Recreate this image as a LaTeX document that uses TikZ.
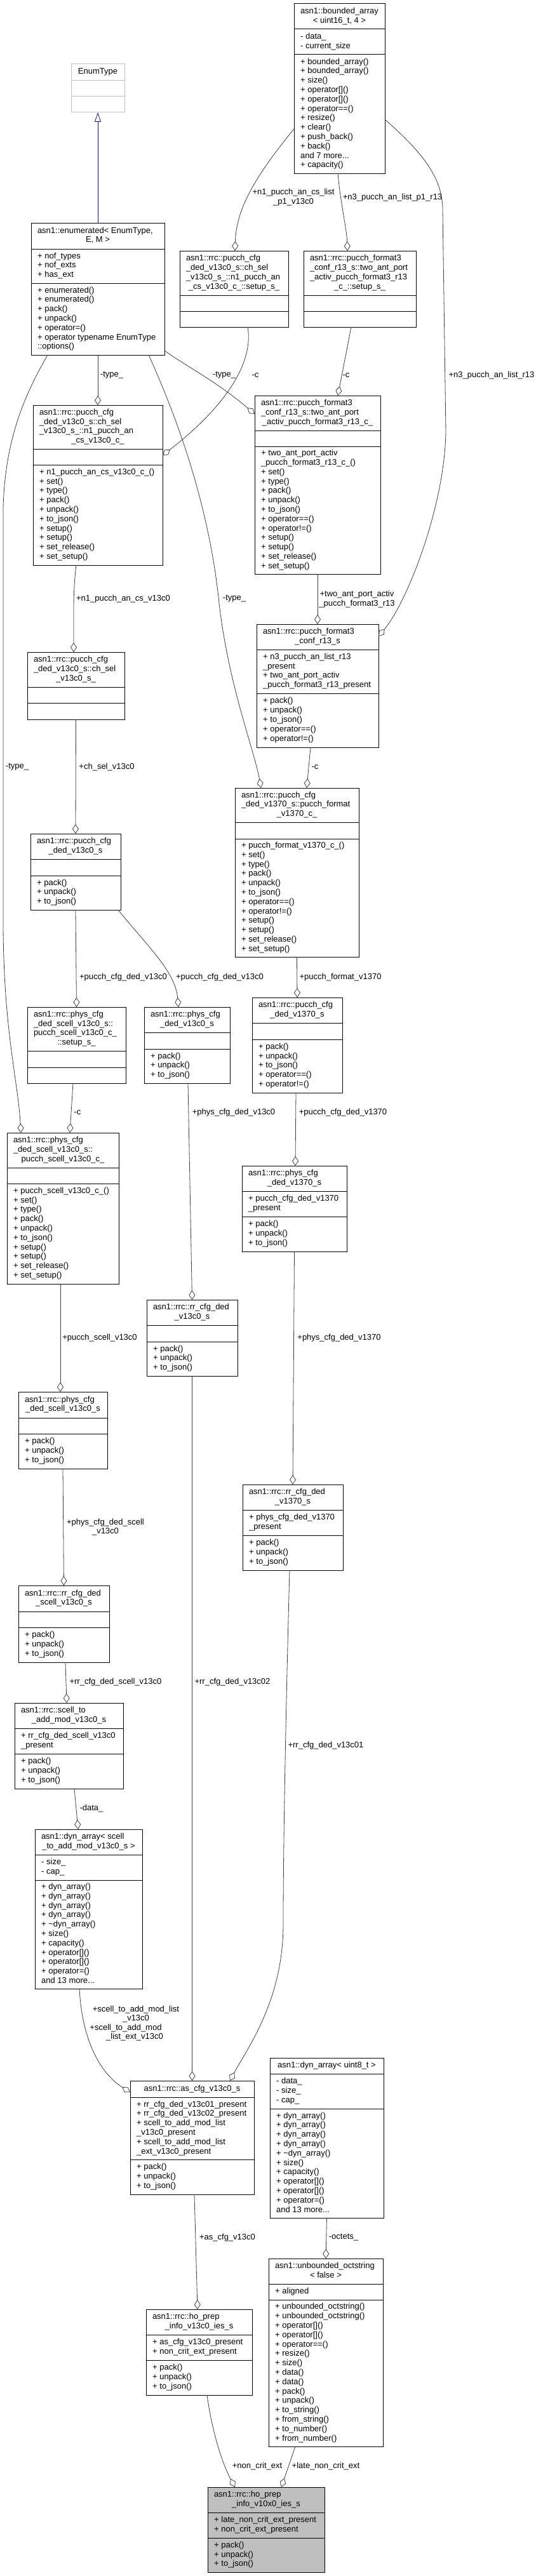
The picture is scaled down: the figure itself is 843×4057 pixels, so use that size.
\documentclass[tikz,border=0pt]{standalone}
\usepackage{fontspec}
\setmainfont{Liberation Sans}
\usetikzlibrary{arrows.meta}
\definecolor{edgec}{HTML}{404040}
\definecolor{midblue}{HTML}{191970}
\definecolor{rootfill}{HTML}{BFBFBF}
\definecolor{extborder}{HTML}{BFBFBF}
\setlength\parindent{0pt}
\newcommand\rowL[1]{\hbox{\strut #1}}
\newcommand\rowC[1]{\hbox to \hsize{\hss\strut #1\hss}}
\def\umlgeo#1,#2,#3,#4,#5,#6\relax{%
  \pgfmathsetmacro\umlXa{#1}\pgfmathsetmacro\umlYa{#2}\pgfmathsetmacro\umlXb{#3}\pgfmathsetmacro\umlYb{#4}%
  \pgfmathsetmacro\umlSa{#5}\pgfmathsetmacro\umlSb{#6}%
  \pgfmathsetmacro\umlW{#3-#1}\pgfmathsetmacro\umlH{#4-#2}%
  \pgfmathsetmacro\umlMx{(#1+#3)/2}\pgfmathsetmacro\umlTw{#3-#1-20}\pgfmathsetmacro\umlTx{#1+10}%
  \pgfmathsetmacro\umlTa{(#2+#5)/2}\pgfmathsetmacro\umlTb{(#5+#6)/2}\pgfmathsetmacro\umlTc{(#6+#4)/2}%
}
\newcommand\umlbox[7]{%
  \umlgeo#2\relax
  \node[clsbox,#3,minimum width=\umlW pt,minimum height=\umlH pt,anchor=north west] (#1) at (\umlXa,\umlYa) {};
  \draw[clsline,#3] (\umlXa,\umlSa) -- (\umlXb,\umlSa);
  \draw[clsline,#3] (\umlXa,\umlSb) -- (\umlXb,\umlSb);
  \node[clstext] (#1-t) at (\umlMx,\umlTa) {\vbox{\hsize=\umlTw pt #4\rowC{#5}}};
  \node[clstext,anchor=west] (#1-a) at (\umlTx,\umlTb) {\vbox{#6}};
  \node[clstext,anchor=west] (#1-m) at (\umlTx,\umlTc) {\vbox{#7}};
}
\tikzset{
  clsbox/.style={draw=black, line width=1pt, fill=white, inner sep=0pt, outer sep=0pt},
  clsline/.style={draw=black, line width=1pt},
  clstext/.style={inner sep=0pt, font=\fontsize{13}{14.8}\selectfont},
  lbl/.style={inner sep=0pt, font=\fontsize{13}{14.8}\selectfont, align=center},
  agg/.style={draw=edgec, line width=0.8pt, -{Diamond[open, length=15pt, width=10pt]}},
  inh/.style={draw=midblue, line width=0.8pt, -{Triangle[open, length=15pt, width=10pt]}},
}
\begin{document}
\begin{tikzpicture}[x=1pt,y=-1pt]
\useasboundingbox (0,0) rectangle (843,4057);
\fill[white] (0,0) rectangle (843,4057);

\umlbox{bounded}{463,6,606,273,46,86}{}{\rowL{asn1::bounded\_array}}{< uint16\_t, 4 >}{\rowL{- data\_}\rowL{- current\_size}}{\rowL{+ bounded\_array()}\rowL{+ bounded\_array()}\rowL{+ size()}\rowL{+ operator[]()}\rowL{+ operator[]()}\rowL{+ operator==()}\rowL{+ resize()}\rowL{+ clear()}\rowL{+ push\_back()}\rowL{+ back()}\rowL{and 7 more...}\rowL{+ capacity()}}

\umlbox{enumtype}{112,101,196,177,127,152}{draw=extborder}{}{EnumType}{}{}

\umlbox{enumerated}{49,351,259,559,392,446}{}{\rowL{asn1::enumerated< EnumType,}}{E, M >}{\rowL{+ nof\_types}\rowL{+ nof\_exts}\rowL{+ has\_ext}}{\rowL{+ enumerated()}\rowL{+ enumerated()}\rowL{+ pack()}\rowL{+ unpack()}\rowL{+ operator=()}\rowL{+ operator typename EnumType}\rowL{::options()}}

\umlbox{chsetup}{283,395,454,515,465,490}{}{\rowL{asn1::rrc::pucch\_cfg}\rowL{\_ded\_v13c0\_s::ch\_sel}\rowL{\_v13c0\_s\_::n1\_pucch\_an}}{\_cs\_v13c0\_c\_::setup\_s\_}{}{}

\umlbox{fsetup}{478,395,655,515,465,490}{}{\rowL{asn1::rrc::pucch\_format3}\rowL{\_conf\_r13\_s::two\_ant\_port}\rowL{\_activ\_pucch\_format3\_r13}}{\_c\_::setup\_s\_}{}{}

\umlbox{nonebox}{52,638,256,890,707,732}{}{\rowL{asn1::rrc::pucch\_cfg}\rowL{\_ded\_v13c0\_s::ch\_sel}\rowL{\_v13c0\_s\_::n1\_pucch\_an}}{\_cs\_v13c0\_c\_}{}{\rowL{+ n1\_pucch\_an\_cs\_v13c0\_c\_()}\rowL{+ set()}\rowL{+ type()}\rowL{+ pack()}\rowL{+ unpack()}\rowL{+ to\_json()}\rowL{+ setup()}\rowL{+ setup()}\rowL{+ set\_release()}\rowL{+ set\_setup()}}

\umlbox{twoant}{401,623,599,904,678,703}{}{\rowL{asn1::rrc::pucch\_format3}\rowL{\_conf\_r13\_s::two\_ant\_port}}{\_activ\_pucch\_format3\_r13\_c\_}{}{\rowL{+ two\_ant\_port\_activ}\rowL{\_pucch\_format3\_r13\_c\_()}\rowL{+ set()}\rowL{+ type()}\rowL{+ pack()}\rowL{+ unpack()}\rowL{+ to\_json()}\rowL{+ operator==()}\rowL{+ operator!=()}\rowL{+ setup()}\rowL{+ setup()}\rowL{+ set\_release()}\rowL{+ set\_setup()}}

\umlbox{fconf}{404,983,596,1177,1023,1092}{}{\rowL{asn1::rrc::pucch\_format3}}{\_conf\_r13\_s}{\rowL{+ n3\_pucch\_an\_list\_r13}\rowL{\_present}\rowL{+ two\_ant\_port\_activ}\rowL{\_pucch\_format3\_r13\_present}}{\rowL{+ pack()}\rowL{+ unpack()}\rowL{+ to\_json()}\rowL{+ operator==()}\rowL{+ operator!=()}}

\umlbox{chsel}{43,1027,196,1133,1082,1107}{}{\rowL{asn1::rrc::pucch\_cfg}\rowL{\_ded\_v13c0\_s::ch\_sel}}{\_v13c0\_s\_}{}{}

\umlbox{vc}{370,1241,565,1507,1295,1321}{}{\rowL{asn1::rrc::pucch\_cfg}\rowL{\_ded\_v1370\_s::pucch\_format}}{\_v1370\_c\_}{}{\rowL{+ pucch\_format\_v1370\_c\_()}\rowL{+ set()}\rowL{+ type()}\rowL{+ pack()}\rowL{+ unpack()}\rowL{+ to\_json()}\rowL{+ operator==()}\rowL{+ operator!=()}\rowL{+ setup()}\rowL{+ setup()}\rowL{+ set\_release()}\rowL{+ set\_setup()}}

\umlbox{pcdA}{48,1313,190,1433,1353,1379}{}{\rowL{asn1::rrc::pucch\_cfg}}{\_ded\_v13c0\_s}{}{\rowL{+ pack()}\rowL{+ unpack()}\rowL{+ to\_json()}}

\umlbox{scellsetup}{43,1586,198,1706,1655,1681}{}{\rowL{asn1::rrc::phys\_cfg}\rowL{\_ded\_scell\_v13c0\_s::}\rowL{pucch\_scell\_v13c0\_c\_}}{::setup\_s\_}{}{}

\umlbox{phyA}{227,1586,362,1706,1626,1652}{}{\rowL{asn1::rrc::phys\_cfg}}{\_ded\_v13c0\_s}{}{\rowL{+ pack()}\rowL{+ unpack()}\rowL{+ to\_json()}}

\umlbox{pcdB}{397,1571,539,1721,1611,1637}{}{\rowL{asn1::rrc::pucch\_cfg}}{\_ded\_v1370\_s}{}{\rowL{+ pack()}\rowL{+ unpack()}\rowL{+ to\_json()}\rowL{+ operator==()}\rowL{+ operator!=()}}

\umlbox{pscellc}{11,1784,187,2022,1839,1864}{}{\rowL{asn1::rrc::phys\_cfg}\rowL{\_ded\_scell\_v13c0\_s::}}{pucch\_scell\_v13c0\_c\_}{}{\rowL{+ pucch\_scell\_v13c0\_c\_()}\rowL{+ set()}\rowL{+ type()}\rowL{+ pack()}\rowL{+ unpack()}\rowL{+ to\_json()}\rowL{+ setup()}\rowL{+ setup()}\rowL{+ set\_release()}\rowL{+ set\_setup()}}

\umlbox{phyB}{381,1836,546,1971,1876,1916}{}{\rowL{asn1::rrc::phys\_cfg}}{\_ded\_v1370\_s}{\rowL{+ pucch\_cfg\_ded\_v1370}\rowL{\_present}}{\rowL{+ pack()}\rowL{+ unpack()}\rowL{+ to\_json()}}

\umlbox{rrA}{231,2047,374,2167,2087,2113}{}{\rowL{asn1::rrc::rr\_cfg\_ded}}{\_v13c0\_s}{}{\rowL{+ pack()}\rowL{+ unpack()}\rowL{+ to\_json()}}

\umlbox{phyC}{29,2192,169,2313,2233,2258}{}{\rowL{asn1::rrc::phys\_cfg}}{\_ded\_scell\_v13c0\_s}{}{\rowL{+ pack()}\rowL{+ unpack()}\rowL{+ to\_json()}}

\umlbox{rrB}{382,2338,540,2473,2378,2418}{}{\rowL{asn1::rrc::rr\_cfg\_ded}}{\_v1370\_s}{\rowL{+ phys\_cfg\_ded\_v1370}\rowL{\_present}}{\rowL{+ pack()}\rowL{+ unpack()}\rowL{+ to\_json()}}

\umlbox{rrC}{29,2497,172,2618,2538,2563}{}{\rowL{asn1::rrc::rr\_cfg\_ded}}{\_scell\_v13c0\_s}{}{\rowL{+ pack()}\rowL{+ unpack()}\rowL{+ to\_json()}}

\umlbox{scelladd}{23,2682,194,2817,2722,2762}{}{\rowL{asn1::rrc::scell\_to}}{\_add\_mod\_v13c0\_s}{\rowL{+ rr\_cfg\_ded\_scell\_v13c0}\rowL{\_present}}{\rowL{+ pack()}\rowL{+ unpack()}\rowL{+ to\_json()}}

\umlbox{dynA}{55,2881,224,3132,2921,2961}{}{\rowL{asn1::dyn\_array< scell}}{\_to\_add\_mod\_v13c0\_s >}{\rowL{- size\_}\rowL{- cap\_}}{\rowL{+ dyn\_array()}\rowL{+ dyn\_array()}\rowL{+ dyn\_array()}\rowL{+ dyn\_array()}\rowL{+ \textasciitilde dyn\_array()}\rowL{+ size()}\rowL{+ capacity()}\rowL{+ operator[]()}\rowL{+ operator[]()}\rowL{+ operator=()}\rowL{and 13 more...}}

\umlbox{ascfg}{205,3277,400,3456,3303,3401}{}{}{asn1::rrc::as\_cfg\_v13c0\_s}{\rowL{+ rr\_cfg\_ded\_v13c01\_present}\rowL{+ rr\_cfg\_ded\_v13c02\_present}\rowL{+ scell\_to\_add\_mod\_list}\rowL{\_v13c0\_present}\rowL{+ scell\_to\_add\_mod\_list}\rowL{\_ext\_v13c0\_present}}{\rowL{+ pack()}\rowL{+ unpack()}\rowL{+ to\_json()}}

\umlbox{dynB}{425,3241,604,3493,3266,3321}{}{}{asn1::dyn\_array< uint8\_t >}{\rowL{- data\_}\rowL{- size\_}\rowL{- cap\_}}{\rowL{+ dyn\_array()}\rowL{+ dyn\_array()}\rowL{+ dyn\_array()}\rowL{+ dyn\_array()}\rowL{+ \textasciitilde dyn\_array()}\rowL{+ size()}\rowL{+ capacity()}\rowL{+ operator[]()}\rowL{+ operator[]()}\rowL{+ operator=()}\rowL{and 13 more...}}

\umlbox{hoA}{230,3637,397,3772,3677,3717}{}{\rowL{asn1::rrc::ho\_prep}}{\_info\_v13c0\_ies\_s}{\rowL{+ as\_cfg\_v13c0\_present}\rowL{+ non\_crit\_ext\_present}}{\rowL{+ pack()}\rowL{+ unpack()}\rowL{+ to\_json()}}

\umlbox{unb}{423,3557,603,3853,3597,3622}{}{\rowL{asn1::unbounded\_octstring}}{< false >}{\rowL{+ aligned}}{\rowL{+ unbounded\_octstring()}\rowL{+ unbounded\_octstring()}\rowL{+ operator[]()}\rowL{+ operator[]()}\rowL{+ operator==()}\rowL{+ resize()}\rowL{+ size()}\rowL{+ data()}\rowL{+ data()}\rowL{+ pack()}\rowL{+ unpack()}\rowL{+ to\_string()}\rowL{+ from\_string()}\rowL{+ to\_number()}\rowL{+ from\_number()}}

\umlbox{hoB}{327,3917,511,4051,3957,3997}{fill=rootfill}{\rowL{asn1::rrc::ho\_prep}}{\_info\_v10x0\_ies\_s}{\rowL{+ late\_non\_crit\_ext\_present}\rowL{+ non\_crit\_ext\_present}}{\rowL{+ pack()}\rowL{+ unpack()}\rowL{+ to\_json()}}

% connectors
\draw[inh] (enumerated.north) -- (enumtype.south);
\draw[agg] ([yshift=-63.5pt]bounded.west) .. controls (400,280) and (372,330) .. ([xshift=1.5pt]chsetup.north);
\draw[agg] ([xshift=-2.5pt]bounded.south) .. controls (536,320) and (546,360) .. ([xshift=-19.5pt]fsetup.north);
\draw[agg] ([yshift=-48.5pt]bounded.east) .. controls (665,240) and (697,280) .. (697,330) -- (702,680) .. controls (700,800) and (640,950) .. ([yshift=78pt]fconf.east);
\draw[agg] (enumerated.south) -- (nonebox.north);
\draw[agg] ([xshift=-79pt]enumerated.south) .. controls (40,620) and (8,690) .. (5,800) -- (5,1450) .. controls (5,1620) and (28,1700) .. ([xshift=-66pt]pscellc.north);
\draw[agg] ([xshift=80pt]enumerated.south) .. controls (280,660) and (330,800) .. (345,950) .. controls (360,1080) and (400,1180) .. ([xshift=-56.5pt]vc.north);
\draw[agg] ([yshift=-97pt]enumerated.east) .. controls (290,575) and (340,600) .. ([yshift=111.5pt]twoant.west);
\draw[agg] ([xshift=21.5pt]chsetup.south) .. controls (402,585) and (330,660) .. ([yshift=47pt]nonebox.east);
\draw[agg] ([xshift=-13.5pt]fsetup.south) -- ([xshift=32pt]twoant.north);
\draw[agg] ([xshift=-34pt]nonebox.south) .. controls (115,930) and (116,960) .. ([xshift=-3.5pt]chsel.north);
\draw[agg] (twoant.south) -- (fconf.north);
\draw[agg] (chsel.south) -- (pcdA.north);
\draw[agg] ([xshift=-11pt]fconf.south) -- ([xshift=15.5pt]vc.north);
\draw[agg] (pcdA.south) -- (scellsetup.north);
\draw[agg] ([xshift=67pt]pcdA.south) .. controls (232,1490) and (276,1530) .. ([xshift=-13.5pt]phyA.north);
\draw[agg] (vc.south) -- (pcdB.north);
\draw[agg] ([xshift=-5.5pt]scellsetup.south) -- ([xshift=11pt]pscellc.north);
\draw[agg] ([xshift=1.5pt]phyA.south) -- (rrA.north);
\draw[agg] ([xshift=-2pt]pcdB.south) -- ([xshift=1.5pt]phyB.north);
\draw[agg] ([xshift=-4pt]pscellc.south) -- ([xshift=-4pt]phyC.north);
\draw[agg] (phyB.south) -- (rrB.north);
\draw[agg] (phyC.south) -- (rrC.north);
\draw[agg] ([xshift=2.5pt]rrC.south) -- ([xshift=-3.5pt]scelladd.north);
\draw[agg] (rrA.south) -- (ascfg.north);
\draw[agg] ([xshift=-5pt]rrB.south) .. controls (450,2700) and (446,2900) .. (446,3030) .. controls (446,3150) and (390,3225) .. ([xshift=59.5pt]ascfg.north);
\draw[agg] ([xshift=8.5pt]scelladd.south) -- ([xshift=-16.5pt]dynA.north);
\draw[agg] ([xshift=-14.5pt]dynA.south) .. controls (130,3225) and (165,3270) .. ([yshift=71.5pt]ascfg.west);
\draw[agg] ([xshift=3.5pt]ascfg.south) -- ([xshift=-2.5pt]hoA.north);
\draw[agg] (dynB.south) -- (unb.north);
\draw[agg] ([xshift=12.5pt]hoA.south) .. controls (334,3830) and (350,3880) .. ([xshift=-49pt]hoB.north);
\draw[agg] ([xshift=-48pt]unb.south) -- ([xshift=24pt]hoB.north);

% labels
\node[lbl] (la1) at (462,311) {+n1\_pucch\_an\_cs\_list\\\_p1\_v13c0};
\node[lbl] (la2) at (618,311) {+n3\_pucch\_an\_list\_p1\_r13};
\node[lbl] (la3) at (774,591) {+n3\_pucch\_an\_list\_r13};
\node[lbl] (la4) at (176,591) {-type\_};
\node[lbl] (la5) at (353,591) {-type\_};
\node[lbl] (la6) at (402,591) {-c};
\node[lbl] (la7) at (545,591) {-c};
\node[lbl] (la8) at (194,943) {+n1\_pucch\_an\_cs\_v13c0};
\node[lbl] (la9) at (369,943) {-type\_};
\node[lbl] (la10) at (562,944) {+two\_ant\_port\_activ\\\_pucch\_format3\_r13};
\node[lbl] (la11) at (27,1208) {-type\_};
\node[lbl] (la12) at (168,1208) {+ch\_sel\_v13c0};
\node[lbl] (la13) at (496,1208) {-c};
\node[lbl] (la14) at (194,1539) {+pucch\_cfg\_ded\_v13c0};
\node[lbl] (la15) at (346,1539) {+pucch\_cfg\_ded\_v13c0};
\node[lbl] (la16) at (536,1539) {+pucch\_format\_v1370};
\node[lbl] (la17) at (122,1752) {-c};
\node[lbl] (la18) at (368,1752) {+phys\_cfg\_ded\_v13c0};
\node[lbl] (la19) at (540,1752) {+pucch\_cfg\_ded\_v1370};
\node[lbl] (la20) at (157,2107) {+pucch\_scell\_v13c0};
\node[lbl] (la21) at (534,2107) {+phys\_cfg\_ded\_v1370};
\node[lbl] (la22) at (166,2405) {+phys\_cfg\_ded\_scell\\\_v13c0};
\node[lbl] (la23) at (182,2649) {+rr\_cfg\_ded\_scell\_v13c0};
\node[lbl] (la24) at (366,2649) {+rr\_cfg\_ded\_v13c02};
\node[lbl] (la25) at (513,2749) {+rr\_cfg\_ded\_v13c01};
\node[lbl] (la26) at (144,2848) {-data\_};
\node[lbl] (la27) at (214,3172) {+scell\_to\_add\_mod\_list\\\_v13c0};
\node[lbl] (la28) at (198,3194) {+scell\_to\_add\_mod};
\node[lbl] (la29) at (212,3208) {\_list\_ext\_v13c0};
\node[lbl] (la30) at (358,3524) {+as\_cfg\_v13c0};
\node[lbl] (la31) at (541,3524) {-octets\_};
\node[lbl] (la32) at (405,3884) {+non\_crit\_ext};
\node[lbl] (la33) at (513,3884) {+late\_non\_crit\_ext};
\end{tikzpicture}
\end{document}
